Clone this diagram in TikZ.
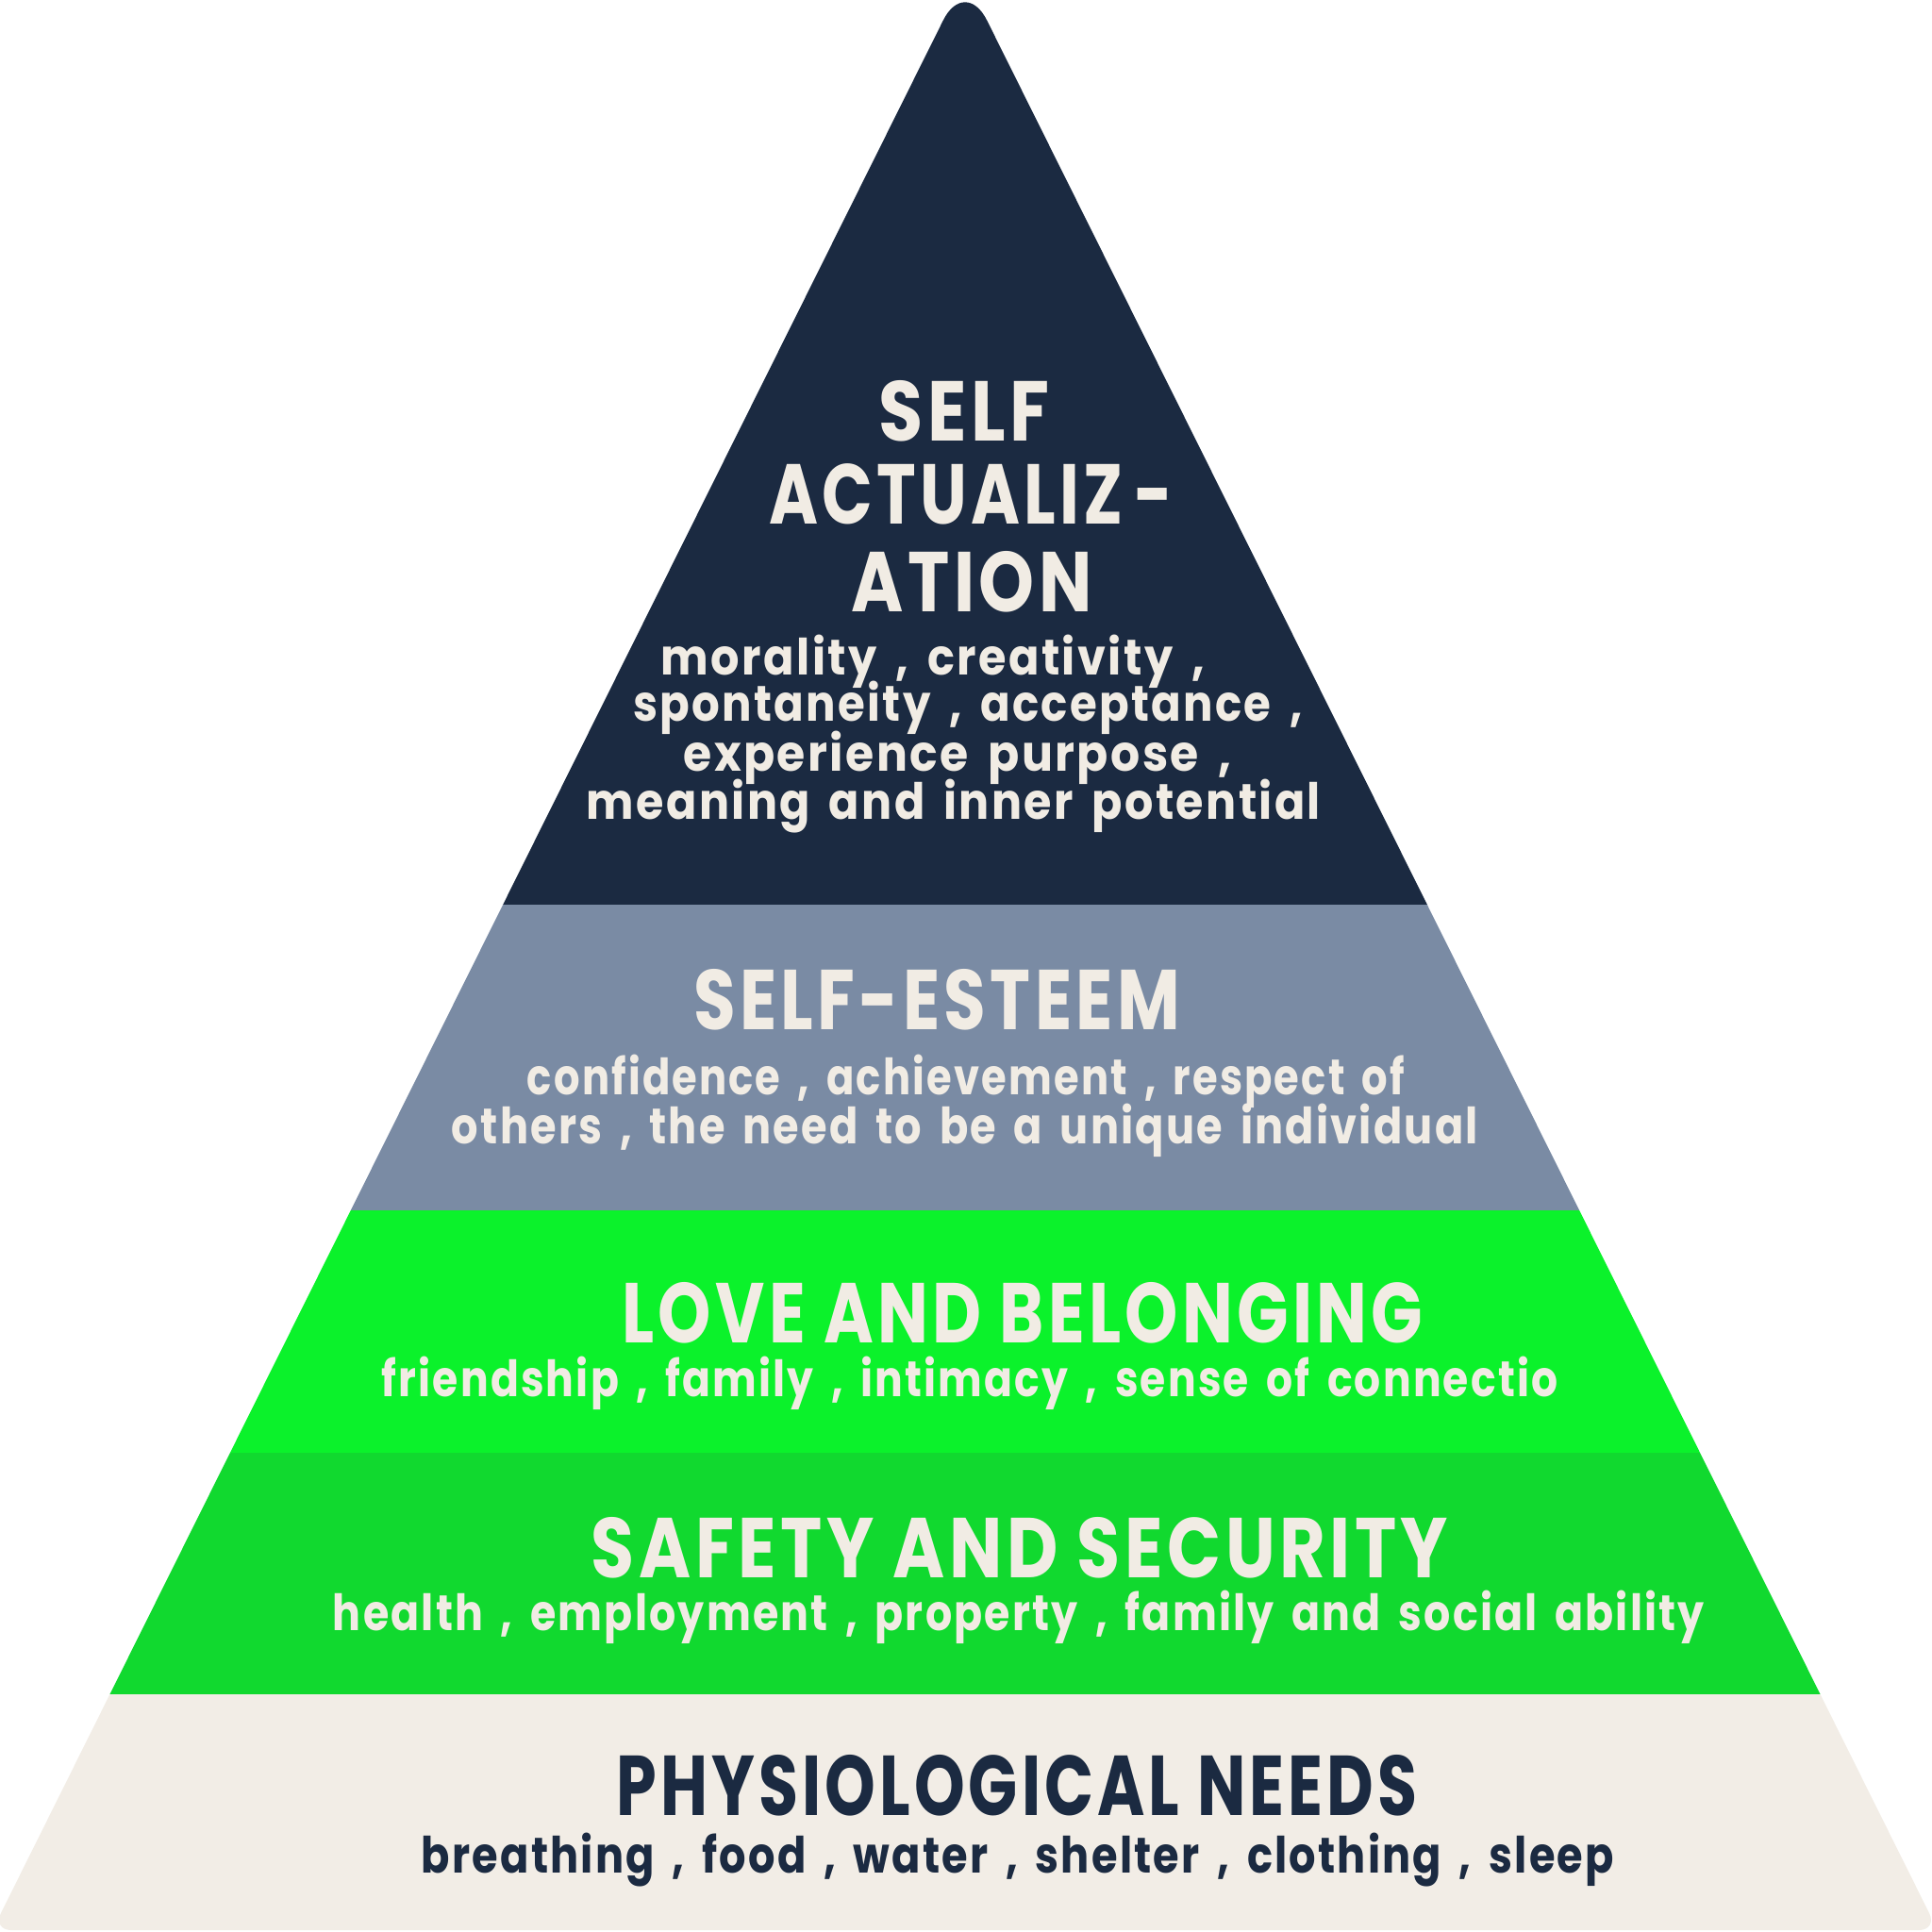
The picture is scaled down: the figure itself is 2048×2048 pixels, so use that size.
\documentclass[tikz,border=0pt]{standalone}
\usepackage{fontspec}
\setmainfont{Poppins}
\newfontfamily\headfont{Poppins}[LetterSpace=6]
\newfontfamily\bodyfont{Poppins}[LetterSpace=5, WordSpace=1.6]
\usepackage{graphicx}
\definecolor{navy}{HTML}{1B2A41}
\definecolor{slate}{HTML}{7A8BA4}
\definecolor{greenA}{HTML}{0BF22B}
\definecolor{greenB}{HTML}{11D92F}
\definecolor{cream}{HTML}{F2EDE6}
\definecolor{ink}{HTML}{F1ECE4}
\newcommand\fitw[2]{\resizebox{#1pt}{\height}{#2}}
\tikzset{
  headtxt/.style={anchor=base, inner sep=0pt, text=ink, font=\headfont\fontsize{90}{90}\selectfont\bfseries},
  bodytxt/.style={anchor=base, inner sep=0pt, text=ink, font=\bodyfont\fontsize{53}{53}\selectfont\bfseries},
  band/.style={fill=#1, draw=none},
}
\begin{document}
\begin{tikzpicture}[x=1pt, y=-1pt]
\useasboundingbox (0,0) rectangle (2048,2048);
\begin{scope}
\clip (12,2046) -- (2034,2046) .. controls (2045,2046) and (2050,2038) .. (2045.1,2028.1)
  -- (1046.2,21.6) .. controls (1033.4,-4.1) and (1012.6,-4.1) .. (999.8,21.6)
  -- (0.9,2028.1) .. controls (-4,2038) and (1,2046) .. (12,2046) -- cycle;
\fill[band=navy]  (-10,-40) rectangle (2060,959);
\fill[band=slate] (-10,959) rectangle (2060,1283);
\fill[band=greenA] (-10,1283) rectangle (2060,1540);
\fill[band=greenB] (-10,1540) rectangle (2060,1796);
\fill[band=cream] (-10,1796) rectangle (2060,2060);
\end{scope}
% self actualization
\node[headtxt] (sa1) at (1022,467) {\fitw{181}{SELF}};
\node[headtxt] (sa2) at (1029,555) {\fitw{428}{ACTUALIZ\,-}};
\node[headtxt] (sa3) at (1030,648) {\fitw{255}{ATION}};
\node[bodytxt] (sab1) at (989,715) {\fitw{576}{morality , creativity ,}};
\node[bodytxt] (sab2) at (1026,764) {\fitw{709}{spontaneity , acceptance ,}};
\node[bodytxt] (sab3) at (1015,817) {\fitw{581}{experience purpose ,}};
\node[bodytxt] (sab4) at (1011,868) {\fitw{778}{meaning and inner potential}};
% self esteem
\node[headtxt] (se1) at (993,1091) {\fitw{516}{SELF-ESTEEM}};
\node[bodytxt] (seb1) at (1024,1160) {\fitw{930}{confidence , achievement , respect of}};
\node[bodytxt] (seb2) at (1023,1212) {\fitw{1088}{others , the need to be a unique individual}};
% love
\node[headtxt] (lb1) at (1084,1423) {\fitw{849}{LOVE AND BELONGING}};
\node[bodytxt] (lbb1) at (1028,1480) {\fitw{1247}{friendship , family , intimacy , sense of connectio}};
% safety
\node[headtxt] (ss1) at (1081,1672) {\fitw{908}{SAFETY AND SECURITY}};
\node[bodytxt] (ssb1) at (1080,1728) {\fitw{1454}{health , employment , property , family and social ability}};
% physiological
\node[headtxt, text=navy] (pn1) at (1078,1924) {\fitw{849}{PHYSIOLOGICAL NEEDS}};
\node[bodytxt, text=navy] (pnb1) at (1079,1985) {\fitw{1264}{breathing , food , water , shelter , clothing , sleep}};
\end{tikzpicture}
\end{document}
